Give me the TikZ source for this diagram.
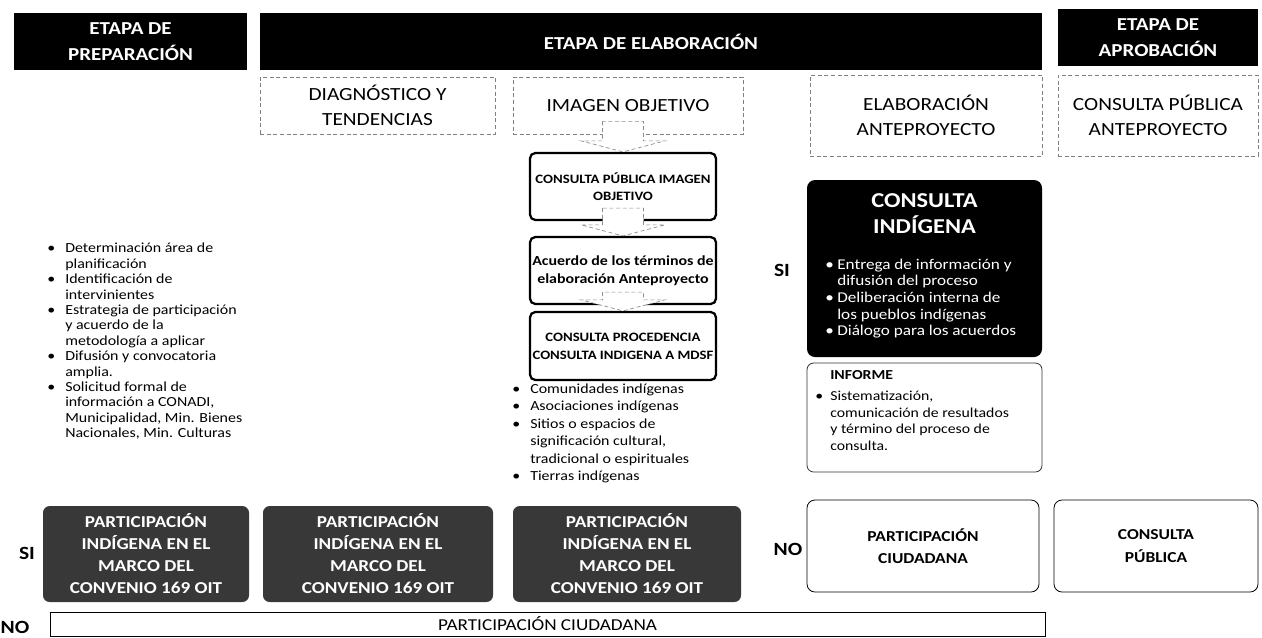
\documentclass[tikz,border=0pt]{standalone}
\usepackage{fontspec}
\setmainfont{Carlito}[FakeStretch=1.15]
\usetikzlibrary{calc}
\newcommand{\fs}[2]{\fontsize{#1}{#2}\selectfont}
\newcommand{\bu}{\makebox[13.5pt][l]{•}}
\newcommand{\nb}{\hspace*{13.5pt}}
\newcommand{\cbu}{\makebox[9pt][l]{•}}
\newcommand{\cnb}{\hspace*{9pt}}
\newcommand{\ibu}{\makebox[11.25pt][l]{•}}
\newcommand{\inb}{\hspace*{11.25pt}}
\tikzset{
  sz/.style 2 args={minimum width=#1*0.75pt, minimum height=#2*0.75pt},
  hdr/.style={fill=black, text=white, inner sep=0pt, align=center, font=\fs{13.7pt}{19pt}\bfseries},
  sub/.style={draw=black!50, densely dashed, line width=0.5pt, fill=white, inner sep=0pt, align=center, font=\fs{13.9pt}{19pt}},
  cbox/.style={draw=black, line width=1.7pt, rounded corners=4pt, fill=white, inner sep=0pt, align=center},
  ci/.style={fill=black, rounded corners=6pt, inner sep=0pt},
  inf/.style={draw=black!80, line width=0.6pt, rounded corners=5pt, inner sep=0pt},
  grey/.style={fill=black!78, rounded corners=5pt, text=white, inner sep=0pt, align=center, font=\fs{12.5pt}{16.5pt}\bfseries},
  wbox/.style={draw=black, line width=0.6pt, rounded corners=6pt, inner sep=0pt, align=center, font=\fs{11.4pt}{17pt}\bfseries},
  lbox/.style={draw=black, line width=0.6pt, inner sep=0pt},
  lbl/.style={font=\fs{14pt}{15pt}\bfseries, inner sep=0pt},
  lst/.style={inner sep=0pt, align=left, anchor=north west},
  barr/.style={draw=black!45, densely dashed, line width=0.5pt, fill=white},
}
\begin{document}
\begin{tikzpicture}[x=0.75pt,y=-0.75pt]
\useasboundingbox (0,0) rectangle (1262,637);
% headers
\node[hdr, sz={233}{57}] (prep) at (130.5,41.5) {ETAPA DE\\PREPARACIÓN};
\node[hdr, sz={782}{57}] (elab) at (651,41.5) {ETAPA DE ELABORACIÓN};
\node[hdr, sz={200}{57}] (aprob) at (1158,37.5) {ETAPA DE\\APROBACIÓN};
% sub headers
\node[sub, sz={235}{57}] (diag) at (377.5,105.5) {DIAGNÓSTICO Y\\TENDENCIAS};
\node[sub, sz={230}{57}] (imagen) at (628,105.5) {IMAGEN OBJETIVO};
\node[sub, sz={232}{81}] (elabante) at (926,115.5) {ELABORACIÓN\\ANTEPROYECTO};
\node[sub, sz={200}{81}] (cpante) at (1158,115.5) {CONSULTA PÚBLICA\\ANTEPROYECTO};
% center column
\node[cbox, sz={186}{67}, font=\fs{9.6pt}{13pt}\bfseries] (cpio) at (623,186.5) {CONSULTA PÚBLICA IMAGEN\\OBJETIVO};
\node[cbox, sz={186}{67}, font=\fs{10.4pt}{13.5pt}\bfseries] (acuerdo) at (623,270.5) {Acuerdo de los términos de\\elaboración Anteproyecto};
\node[cbox, sz={186}{68}, font=\fs{9.6pt}{13pt}\bfseries] (proc) at (623,346) {\\[-6pt]CONSULTA PROCEDENCIA\\CONSULTA INDIGENA A MDSF};
% block arrows
\foreach \s/\t in {imagen/cpio, cpio/acuerdo, acuerdo/proc}{
  \draw[barr] ($(\s.south -| \t.north)+(-20.5,-13)$) -- ($(\t.north)+(-20.5,-11)$) -- ($(\t.north)+(-42,-11)$)
    -- (\t.north) -- ($(\t.north)+(42,-11)$) -- ($(\t.north)+(20.5,-11)$) -- ($(\s.south -| \t.north)+(20.5,-13)$) -- cycle;
}
% left list
\node[lst, font=\fs{10.4pt}{11.55pt}] (llist) at (47,243) {%
\bu Determinación área de\\ \nb planificación\\ \bu Identificación de\\ \nb intervinientes\\
\bu Estrategia de participación\\ \nb y acuerdo de la\\ \nb metodología a aplicar\\
\bu Difusión y convocatoria\\ \nb amplia.\\ \bu Solicitud formal de\\ \nb información a CONADI,\\
\nb Municipalidad, Min. Bienes\\ \nb Nacionales, Min. Culturas};
% center list
\node[lst, font=\fs{10.4pt}{13.1pt}] (clist) at (512,383.5) {%
\bu Comunidades indígenas\\ \bu Asociaciones indígenas\\ \bu Sitios o espacios de\\
\nb significación cultural,\\ \nb tradicional o espirituales\\ \bu Tierras indígenas};
% consulta indigena
\node[ci, sz={235}{177}] (ci) at (924.5,268.5) {};
\node[text=white, font=\fs{15.9pt}{19.5pt}\bfseries, align=center, inner sep=0pt] (cititle) at (924.5,214) {CONSULTA\\INDÍGENA};
\node[lst, text=white, font=\fs{11.2pt}{12.5pt}] (cilist) at (825,258.5) {%
\cbu Entrega de información y\\ \cnb difusión del proceso\\
\cbu Deliberación interna de\\ \cnb los pueblos indígenas\\
\cbu Diálogo para los acuerdos};
\node[inf, sz={235}{109}] (inf) at (924.5,417.5) {};
\node[lst, font=\fs{10.3pt}{12.5pt}] (inftxt) at (815,370.5) {%
\inb\textbf{INFORME}\\[3pt] \ibu Sistematización,\\
\inb comunicación de resultados\\ \inb y término del proceso de\\ \inb consulta.};
\node[lbl] (si1) at (782,270) {SI};
% bottom row
\node[grey, sz={206}{96}] (g1) at (146,554) {PARTICIPACIÓN\\INDÍGENA EN EL\\MARCO DEL\\CONVENIO 169 OIT};
\node[grey, sz={230}{96}] (g2) at (378,554) {PARTICIPACIÓN\\INDÍGENA EN EL\\MARCO DEL\\CONVENIO 169 OIT};
\node[grey, sz={228}{96}] (g3) at (627,554) {PARTICIPACIÓN\\INDÍGENA EN EL\\MARCO DEL\\CONVENIO 169 OIT};
\node[lbl] (si2) at (27,553) {SI};
\node[wbox, sz={232}{92}] (pc) at (923,546) {PARTICIPACIÓN\\CIUDADANA};
\node[wbox, sz={204}{92}] (cp) at (1156,546) {CONSULTA\\PÚBLICA};
\node[lbl] (no1) at (788,549) {NO};
\node[lbox, sz={995}{24}, font=\fs{12.5pt}{14pt}] (long) at (547.5,624) {PARTICIPACIÓN CIUDADANA};
\node[lbl] (no2) at (15,627) {NO};
\end{tikzpicture}
\end{document}
